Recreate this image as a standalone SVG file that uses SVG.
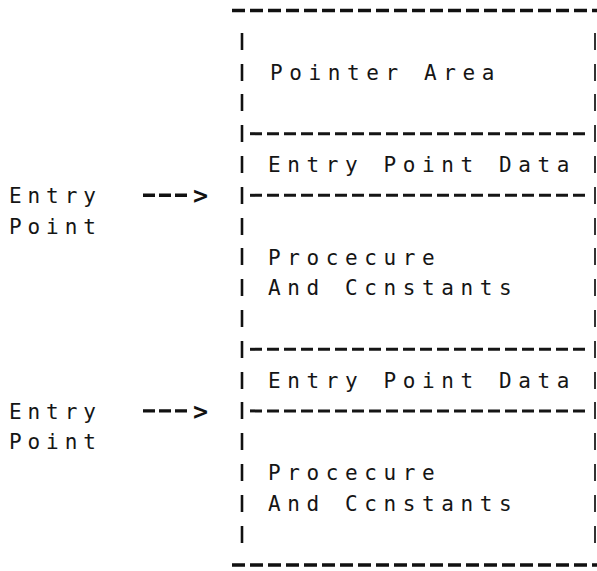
<svg xmlns="http://www.w3.org/2000/svg" width="597" height="571" viewBox="0 0 597 571">
  <defs>
    <style>
      .t { font-family: "DejaVu Sans Mono", "Liberation Mono", monospace; font-size: 21px; letter-spacing: 6.6px; fill: #151515; }
      .lbl { font-family: "DejaVu Sans Mono", "Liberation Mono", monospace; font-size: 21px; letter-spacing: 5.9px; fill: #151515; }
      .head { font-family: "DejaVu Sans Mono", "Liberation Mono", monospace; font-size: 25px; font-weight: bold; fill: #111; }
      .edge { stroke: #111; stroke-width: 3.6; stroke-dasharray: 13 5; fill: none; }
      .sep { stroke: #151515; stroke-width: 3; stroke-dasharray: 12 5; fill: none; }
      .barL { stroke: #111; stroke-width: 2.6; }
      .barR { stroke: #333; stroke-width: 2; }
      .arr { stroke: #111; stroke-width: 3.4; stroke-dasharray: 12 4; fill: none; }
    </style>
  </defs>
  <rect width="597" height="571" fill="#fff"/>

  <!-- outer top / bottom rules of the memory block -->
  <g id="frame">
    <line class="edge" x1="232" y1="10.5" x2="597" y2="10.5"/>
    <line class="edge" x1="232" y1="565" x2="597" y2="565"/>
  </g>

  <!-- Pointer area: rows 1-3 -->
  <g id="pointer-area">
    <line class="barL" x1="242" y1="33" x2="242" y2="50"/>
    <line class="barR" x1="595" y1="33" x2="595" y2="50"/>
    <line class="barL" x1="242" y1="64" x2="242" y2="81"/>
    <line class="barR" x1="595" y1="64" x2="595" y2="81"/>
    <line class="barL" x1="242" y1="94" x2="242" y2="111"/>
    <line class="barR" x1="595" y1="94" x2="595" y2="111"/>
    <text class="t" x="270" y="79.8">Pointer Area</text>
    <line class="barL" x1="242" y1="125" x2="242" y2="142"/>
    <line class="sep" x1="250" y1="133.7" x2="589" y2="133.7"/>
    <line class="barR" x1="595" y1="125" x2="595" y2="142"/>
  </g>

  <!-- First entry point data -->
  <g id="entry-data-1">
    <line class="barL" x1="242" y1="156" x2="242" y2="173"/>
    <line class="barR" x1="595" y1="156" x2="595" y2="173"/>
    <text class="t" x="268" y="172.1">Entry Point Data</text>
    <line class="barL" x1="242" y1="187" x2="242" y2="204"/>
    <line class="sep" x1="250" y1="195.3" x2="589" y2="195.3"/>
    <line class="barR" x1="595" y1="187" x2="595" y2="204"/>
  </g>

  <!-- First procedure and constants -->
  <g id="procedure-1">
    <line class="barL" x1="242" y1="218" x2="242" y2="235"/>
    <line class="barR" x1="595" y1="218" x2="595" y2="235"/>
    <line class="barL" x1="242" y1="248" x2="242" y2="265"/>
    <line class="barR" x1="595" y1="248" x2="595" y2="265"/>
    <line class="barL" x1="242" y1="279" x2="242" y2="296"/>
    <line class="barR" x1="595" y1="279" x2="595" y2="296"/>
    <line class="barL" x1="242" y1="310" x2="242" y2="327"/>
    <line class="barR" x1="595" y1="310" x2="595" y2="327"/>
    <text class="t" x="268" y="264.5">Procecure</text>
    <text class="t" x="268" y="295.3">And Ccnstants</text>
    <line class="barL" x1="242" y1="341" x2="242" y2="358"/>
    <line class="sep" x1="250" y1="349.3" x2="589" y2="349.3"/>
    <line class="barR" x1="595" y1="341" x2="595" y2="358"/>
  </g>

  <!-- Second entry point data -->
  <g id="entry-data-2">
    <line class="barL" x1="242" y1="372" x2="242" y2="389"/>
    <line class="barR" x1="595" y1="372" x2="595" y2="389"/>
    <text class="t" x="268" y="387.7">Entry Point Data</text>
    <line class="barL" x1="242" y1="402" x2="242" y2="419"/>
    <line class="sep" x1="250" y1="410.9" x2="589" y2="410.9"/>
    <line class="barR" x1="595" y1="402" x2="595" y2="419"/>
  </g>

  <!-- Second procedure and constants -->
  <g id="procedure-2">
    <line class="barL" x1="242" y1="433" x2="242" y2="450"/>
    <line class="barR" x1="595" y1="433" x2="595" y2="450"/>
    <line class="barL" x1="242" y1="464" x2="242" y2="481"/>
    <line class="barR" x1="595" y1="464" x2="595" y2="481"/>
    <line class="barL" x1="242" y1="495" x2="242" y2="512"/>
    <line class="barR" x1="595" y1="495" x2="595" y2="512"/>
    <line class="barL" x1="242" y1="526" x2="242" y2="543"/>
    <line class="barR" x1="595" y1="526" x2="595" y2="543"/>
    <text class="t" x="268" y="480.1">Procecure</text>
    <text class="t" x="268" y="510.9">And Ccnstants</text>
  </g>

  <!-- Entry point labels -->
  <g id="entry-label-1">
    <text class="lbl" x="9" y="202.9">Entry</text>
    <text class="lbl" x="9" y="233.7">Point</text>
  </g>
  <g id="entry-label-2">
    <text class="lbl" x="9" y="418.5">Entry</text>
    <text class="lbl" x="9" y="449.3">Point</text>
  </g>

  <!-- Arrows into the entry points -->
  <g id="connectors">
    <line class="arr" x1="143" y1="195.3" x2="191" y2="195.3"/>
    <text class="head" x="193" y="204.3">&gt;</text>
    <line class="arr" x1="143" y1="410.9" x2="191" y2="410.9"/>
    <text class="head" x="193" y="419.9">&gt;</text>
  </g>
</svg>
